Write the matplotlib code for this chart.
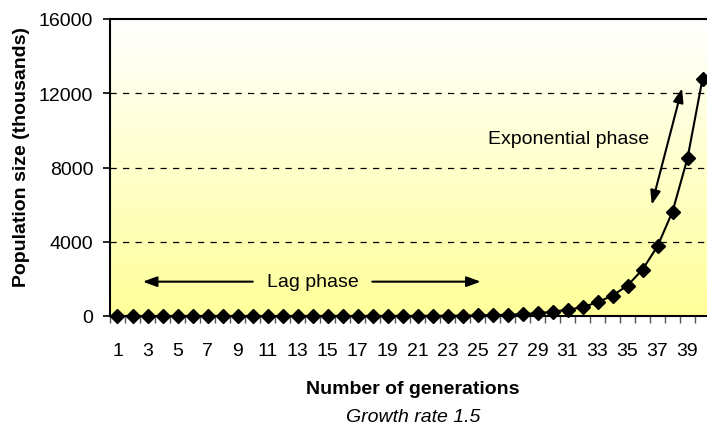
import numpy as np
import matplotlib
matplotlib.use("Agg")
import matplotlib.pyplot as plt
from matplotlib.colors import LinearSegmentedColormap

# population size (thousands) per generation
generations = list(range(1, 41))
population = [0.0, 0.0, 0.0, 0.0, 0.0, 0.0, 0.0, 0.0, 0.1, 0.1,
              0.1, 0.2, 0.2, 0.3, 0.5, 0.8, 1.2, 1.7, 2.6, 4,
              6, 9, 13, 20, 30, 45, 67, 100, 150, 225,
              340, 470, 740, 1100, 1640, 2500, 3760, 5620, 8500, 12770]
y_ticks = [0, 4000, 8000, 12000, 16000]
x_labels = [str(g) for g in generations[::2]]

plt.rcParams['font.family'] = ['Liberation Sans', 'DejaVu Sans']
plt.rcParams['font.size'] = 14

fig = plt.figure(figsize=(7.07, 4.27), dpi=100)
ax = fig.add_axes([110 / 707, 110 / 427, 600 / 707, 297 / 427])

# white -> pale yellow gradient behind the plot
cmap = LinearSegmentedColormap.from_list("bg", ["#ffff99", "#ffffcc", "#ffffff"])
grad = np.linspace(0, 1, 256).reshape(-1, 1)
ax.imshow(grad, cmap=cmap, origin="lower", aspect="auto",
          extent=[0, 1, 0, 1], transform=ax.transAxes, zorder=0)

ax.plot(generations, population, color="black", lw=1.5, marker="D",
        markersize=7.5, clip_on=False, zorder=5)

ax.set_xlim(0.5, 40.5)
ax.set_ylim(0, 16000)

# dashed gridlines
for yv in y_ticks[1:-1]:
    ax.axhline(yv, color="black", lw=0.9, ls=(0, (5, 5)), zorder=1)

ax.set_yticks(y_ticks)
ax.set_yticklabels([str(v) for v in y_ticks])
ax.tick_params(axis="y", direction="out", length=5, width=1.2, pad=7)

# tick marks between categories, labels on odd categories
ax.set_xticks(np.arange(0.5, 41, 1))
ax.set_xticklabels([])
ax.set_xticks(generations[::2], minor=True)
ax.set_xticklabels(x_labels, minor=True)
ax.tick_params(axis="x", which="major", direction="out", length=5, width=1, color="#555555")
ax.tick_params(axis="x", which="minor", length=0, pad=19)

for side in ["left", "bottom", "top", "right"]:
    ax.spines[side].set_linewidth(1.5)
    ax.spines[side].set_zorder(6)

# phase annotations
ax.annotate("", xy=(38.68, 12410), xytext=(36.57, 5855),
            arrowprops=dict(arrowstyle="<|-|>,head_length=0.6,head_width=0.22",
                            color="black", lw=1.5))
ax.text(31.1, 9570, "Exponential phase", ha="center", va="center")

ax.annotate("", xy=(2.5, 1850), xytext=(10.2, 1850),
            arrowprops=dict(arrowstyle="-|>,head_length=0.6,head_width=0.22",
                            color="black", lw=1.5))
ax.annotate("", xy=(25.4, 1850), xytext=(17.8, 1850),
            arrowprops=dict(arrowstyle="-|>,head_length=0.6,head_width=0.22",
                            color="black", lw=1.5))
ax.text(14.0, 1850, "Lag phase", ha="center", va="center")

fig.text(22 / 707, 1 - 157 / 427, "Population size (thousands)", rotation=90,
         ha="center", va="center", fontweight="bold")
fig.text(413 / 707, 1 - 390 / 427, "Number of generations",
         ha="center", va="center", fontweight="bold")
fig.text(413 / 707, 1 - 418 / 427, "Growth rate 1.5",
         ha="center", va="center", style="italic")

fig.savefig("out.png", dpi=100)
